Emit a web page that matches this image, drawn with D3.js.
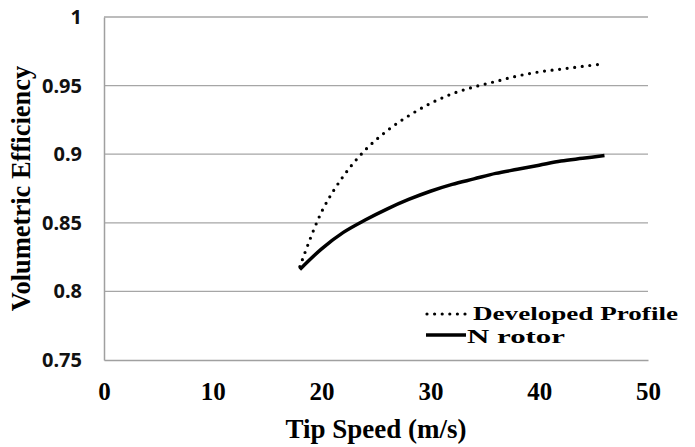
<!DOCTYPE html>
<html>
<head>
<meta charset="utf-8">
<script src="https://cdn.jsdelivr.net/npm/d3@7"></script>
<style>
  html, body { margin: 0; padding: 0; background: #fff; }
  svg { display: block; }
</style>
</head>
<body>
<svg id="chart" width="695" height="447"></svg>
<script>
// Tip speed samples (m/s)
const tipSpeed = [18, 20, 22, 24, 26, 28, 30, 32, 34, 36, 38, 40, 42, 44, 46];
// Volumetric efficiency for each rotor
const developedProfile = [0.818, 0.858, 0.884, 0.903, 0.917, 0.928, 0.937, 0.944, 0.949, 0.953, 0.957, 0.960, 0.962, 0.964, 0.966];
const nRotor = [0.816, 0.831, 0.843, 0.852, 0.860, 0.867, 0.873, 0.878, 0.882, 0.886, 0.889, 0.892, 0.895, 0.897, 0.899];
// Axis ticks
const xTicks = [0, 10, 20, 30, 40, 50];
const yTicks = [0.75, 0.8, 0.85, 0.9, 0.95, 1];
const yTickLabels = ["0.75", "0.8", "0.85", "0.9", "0.95", "1"];
const seriesNames = ["Developed Profile", "N rotor"];

const svg = d3.select("#chart");
const plot = { left: 104, right: 648, top: 17, bottom: 360 };

const x = d3.scaleLinear().domain([0, 50]).range([plot.left, plot.right]);
const y = d3.scaleLinear().domain([0.75, 1]).range([plot.bottom, plot.top]);

const serif = "'Liberation Serif', 'Times New Roman', serif";
const sans = "'Noto Sans', 'Open Sans', sans-serif";

// Horizontal gridlines
svg.append("g")
  .selectAll("line")
  .data(yTicks.slice(1))
  .join("line")
  .attr("x1", plot.left).attr("x2", plot.right)
  .attr("y1", d => y(d)).attr("y2", d => y(d))
  .attr("stroke", "#a6a6a6").attr("stroke-width", 1.3);

// Y axis
const yAxis = svg.append("g")
  .attr("transform", `translate(${plot.left},0)`)
  .call(d3.axisLeft(y).tickValues(yTicks).tickSize(0).tickPadding(22)
    .tickFormat((d, i) => yTickLabels[i]));
yAxis.select(".domain").attr("stroke", "#a0a0a0").attr("stroke-width", 1.5);
yAxis.selectAll("text")
  .attr("font-family", sans).attr("font-weight", "bold")
  .attr("font-size", 20).attr("fill", "#111");

// X axis
const xAxis = svg.append("g")
  .attr("transform", `translate(0,${plot.bottom})`)
  .call(d3.axisBottom(x).tickValues(xTicks).tickSize(0).tickPadding(22)
    .tickFormat(d3.format("d")));
xAxis.select(".domain").attr("stroke", "#a0a0a0").attr("stroke-width", 1.5);
xAxis.selectAll("text")
  .attr("font-family", serif).attr("font-weight", "bold")
  .attr("font-size", 25).attr("fill", "#000");

// Axis titles
svg.append("text")
  .attr("x", (plot.left + plot.right) / 2).attr("y", 438)
  .attr("text-anchor", "middle")
  .attr("font-family", serif).attr("font-weight", "bold").attr("font-size", 27)
  .text("Tip Speed (m/s)");

svg.append("text")
  .attr("transform", `translate(30,${(plot.top + plot.bottom) / 2}) rotate(-90)`)
  .attr("text-anchor", "middle")
  .attr("font-family", serif).attr("font-weight", "bold").attr("font-size", 26.5)
  .text("Volumetric Efficiency");

// Curves
const line = d3.line()
  .x(d => x(d[0])).y(d => y(d[1]))
  .curve(d3.curveCatmullRom.alpha(0.5));

svg.append("path")
  .datum(d3.zip(tipSpeed, developedProfile))
  .attr("d", line)
  .attr("fill", "none").attr("stroke", "#000")
  .attr("stroke-width", 3.2).attr("stroke-linecap", "round")
  .attr("stroke-dasharray", "0 7.6");

svg.append("path")
  .datum(d3.zip(tipSpeed, nRotor))
  .attr("d", line)
  .attr("fill", "none").attr("stroke", "#000")
  .attr("stroke-width", 3.5);

// Legend
const legend = svg.append("g");
legend.append("line")
  .attr("x1", 427).attr("x2", 466).attr("y1", 314).attr("y2", 314)
  .attr("stroke", "#000").attr("stroke-width", 3.2)
  .attr("stroke-linecap", "round").attr("stroke-dasharray", "0 7.6");
legend.append("line")
  .attr("x1", 426).attr("x2", 466).attr("y1", 335).attr("y2", 335)
  .attr("stroke", "#000").attr("stroke-width", 3.5);
legend.append("text")
  .attr("x", 473).attr("y", 320)
  .attr("font-family", serif).attr("font-weight", "bold").attr("font-size", 19)
  .attr("textLength", 205).attr("lengthAdjust", "spacingAndGlyphs")
  .text(seriesNames[0]);
legend.append("text")
  .attr("x", 467).attr("y", 343)
  .attr("font-family", serif).attr("font-weight", "bold").attr("font-size", 19)
  .attr("textLength", 98).attr("lengthAdjust", "spacingAndGlyphs")
  .text(seriesNames[1]);
</script>
</body>
</html>
